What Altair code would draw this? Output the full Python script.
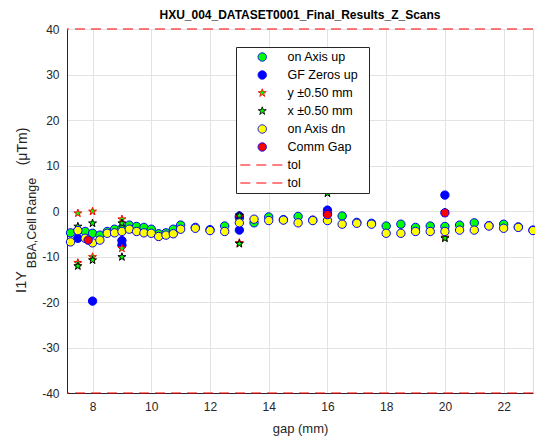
import altair as alt
import pandas as pd

# ---------------- data ----------------
gap_axis = [7.25, 7.5, 7.75, 8.0, 8.25, 8.5, 8.75, 9.0, 9.25, 9.5, 9.75, 10.0,
            10.25, 10.5, 10.75, 11.0, 11.5, 12.0, 12.5, 13.0, 13.5, 14.0, 14.5,
            15.0, 15.5, 16.0, 16.5, 17.0, 17.5, 18.0, 18.5, 19.0, 19.5, 20.0,
            20.5, 21.0, 21.5, 22.0, 22.5, 23.0]
on_axis_up = [-4.8, -4.3, -4.5, -4.9, -5.3, -4.5, -4.0, -3.8, -3.1, -3.4, -3.6, -4.0,
              -5.0, -4.8, -4.0, -3.1, -3.6, -4.1, -3.3, -1.5, -2.6, -1.3, -1.9,
              -1.2, -2.0, -0.5, -1.1, -2.5, -2.7, -3.3, -2.9, -3.6, -3.3, -3.4,
              -3.1, -2.6, -3.2, -2.9, -3.5, -4.2]
on_axis_dn = [-6.8, -4.3, -6.0, -7.0, -6.4, -4.9, -4.8, -4.5, -4.0, -4.5, -4.8, -4.9,
              -5.6, -5.3, -5.0, -4.0, -3.8, -4.3, -4.5, -2.6, -1.8, -2.1, -2.0,
              -2.6, -2.1, -2.1, -2.9, -2.7, -2.9, -4.9, -4.9, -4.5, -4.5, -4.5,
              -4.2, -4.2, -3.3, -3.8, -3.6, -4.3]
gf_gap = [7.5, 8.0, 9.0, 9.0, 13.0, 13.0, 16.0, 20.0]
gf_val = [-6.0, -19.8, -6.5, -7.5, -1.1, -4.2, 0.2, 3.5]
star_gap = [7.5, 7.5, 8.0, 8.0, 9.0, 9.0, 13.0, 13.0, 16.0, 16.0, 20.0, 20.0]
y_star = [-0.5, -11.4, -0.1, -10.1, -1.8, -8.2, -1.3, -7.0, -0.4, -1.0, -0.4, -5.8]
x_star = [-3.4, -12.1, -2.7, -10.8, -2.7, -10.1, -1.0, -7.2, 3.9, -0.6, -0.3, -6.0]
comm_gap = [7.85, 16.0, 20.0]
comm_val = [-6.4, -0.8, -0.4]
tol_vals = [40, -40]

series = ["on Axis up", "GF Zeros up", "y ±0.50 mm", "x ±0.50 mm",
          "on Axis dn", "Comm Gap", "tol", "tol "]
fills = ["#00ff00", "#0000ff", "#00ff00", "#00ff00", "#ffff00", "#ff0000", "white", "white"]
strokes = ["#0000ff", "#0000ff", "#ff0000", "#000000", "#0000ff", "#0000ff", "#ff0000", "#ff0000"]
STAR = ("M0,-1L0.2245,-0.309L0.9511,-0.309L0.3633,0.118L0.5878,0.809L0,0.382"
        "L-0.5878,0.809L-0.3633,0.118L-0.9511,-0.309L-0.2245,-0.309Z")
LINE = "M-5.25,0H5.25"
shapes = ["circle", "circle", STAR, STAR, "circle", "circle", LINE, LINE]
sizes = [70, 70, 160, 160, 70, 70, 64, 64]
dashes = [[1, 0], [1, 0], [1, 0], [1, 0], [1, 0], [1, 0], [10, 6], [10, 6]]

# ---------------- tables ----------------
parts = [
    pd.DataFrame({"gap": gap_axis, "val": on_axis_up, "series": series[0]}),
    pd.DataFrame({"gap": gf_gap, "val": gf_val, "series": series[1]}),
    pd.DataFrame({"gap": star_gap, "val": y_star, "series": series[2]}),
    pd.DataFrame({"gap": star_gap, "val": x_star, "series": series[3]}),
    pd.DataFrame({"gap": gap_axis, "val": on_axis_dn, "series": series[4]}),
    pd.DataFrame({"gap": comm_gap, "val": comm_val, "series": series[5]}),
]
pts = pd.concat(parts, ignore_index=True)
pts["idx"] = range(len(pts))
tol = pd.DataFrame({"val": tol_vals, "series": series[6:8]})

FONT = "Liberation Sans"
leg = alt.Legend(
    title=None, orient="none", legendX=169, legendY=18,
    fillColor="white", strokeColor="#262626", padding=1, rowPadding=0,
    clipHeight=18, symbolOffset=19, labelOffset=19, labelFont=FONT,
    labelFontSize=12.5, labelColor="black", symbolStrokeWidth=1,
    labelExpr="datum.label + '\u2800'", cornerRadius=0,
)

xs = alt.Scale(domain=[7.13, 23.0], nice=False, zero=False)
ys = alt.Scale(domain=[-40, 40], nice=False, zero=False)

x_axis = alt.Axis(values=[8, 10, 12, 14, 16, 18, 20, 22], title="gap (mm)",
                  grid=True, gridColor="#e3e3e3", ticks=False, labelPadding=8,
                  labelFont=FONT, labelFontSize=12, labelColor="#262626",
                  domainColor="#262626", titleFont=FONT, titleFontSize=13,
                  titleFontWeight="normal", titleColor="#262626", titlePadding=10)
y_axis = alt.Axis(values=[-40, -30, -20, -10, 0, 10, 20, 30, 40], title=None,
                  grid=True, gridColor="#e3e3e3", ticks=False, labelPadding=8,
                  labelFont=FONT, labelFontSize=12, labelColor="#262626",
                  domainColor="#262626", labelExpr="'' + datum.value")

points = alt.Chart(pts).mark_point(filled=True, opacity=1, strokeWidth=1).encode(
    x=alt.X("gap:Q", scale=xs, axis=x_axis),
    y=alt.Y("val:Q", scale=ys, axis=y_axis),
    fill=alt.Fill("series:N", scale=alt.Scale(domain=series, range=fills), legend=leg),
    stroke=alt.Stroke("series:N", scale=alt.Scale(domain=series, range=strokes), legend=leg),
    shape=alt.Shape("series:N", scale=alt.Scale(domain=series, range=shapes), legend=leg),
    size=alt.Size("series:N", scale=alt.Scale(domain=series, range=sizes), legend=leg),
    order=alt.Order("idx:Q"),
)

rules = alt.Chart(tol).mark_rule(strokeWidth=1.2).encode(
    y=alt.Y("val:Q", scale=ys),
    stroke=alt.Stroke("series:N", scale=alt.Scale(domain=series, range=strokes), legend=leg),
    strokeDash=alt.StrokeDash("series:N", scale=alt.Scale(domain=series, range=dashes), legend=leg),
)

# y-axis title with subscript, built from three text pieces
ylab = pd.DataFrame({"t": ["I1Y"]})
t1 = alt.Chart(ylab).mark_text(text="I1Y", angle=270, align="center", baseline="middle",
                               font=FONT, fontSize=14.5, color="#262626").encode(
    x=alt.value(-45), y=alt.value(253))
t2 = alt.Chart(ylab).mark_text(text="BBA,Cell Range", angle=270, align="center", baseline="middle",
                               font=FONT, fontSize=12.5, color="#262626").encode(
    x=alt.value(-35), y=alt.value(194))
t3 = alt.Chart(ylab).mark_text(text="(μTm)", angle=270, align="center", baseline="middle",
                               font=FONT, fontSize=14, color="#262626").encode(
    x=alt.value(-44), y=alt.value(117.5))

chart = alt.layer(rules, points, t1, t2, t3).properties(
    width=466, height=364,
    title=alt.TitleParams("HXU_004_DATASET0001_Final_Results_Z_Scans", fontSize=12,
                          fontWeight="bold", font=FONT, color="black",
                          anchor="middle", frame="group", offset=1),
    autosize=alt.AutoSizeParams(type="none"),
    padding={"left": 59, "top": 21, "right": 2, "bottom": 44},
).configure_view(stroke=None).configure(background="white")

chart.save("out.html", embed_options={"renderer": "svg", "actions": False})
